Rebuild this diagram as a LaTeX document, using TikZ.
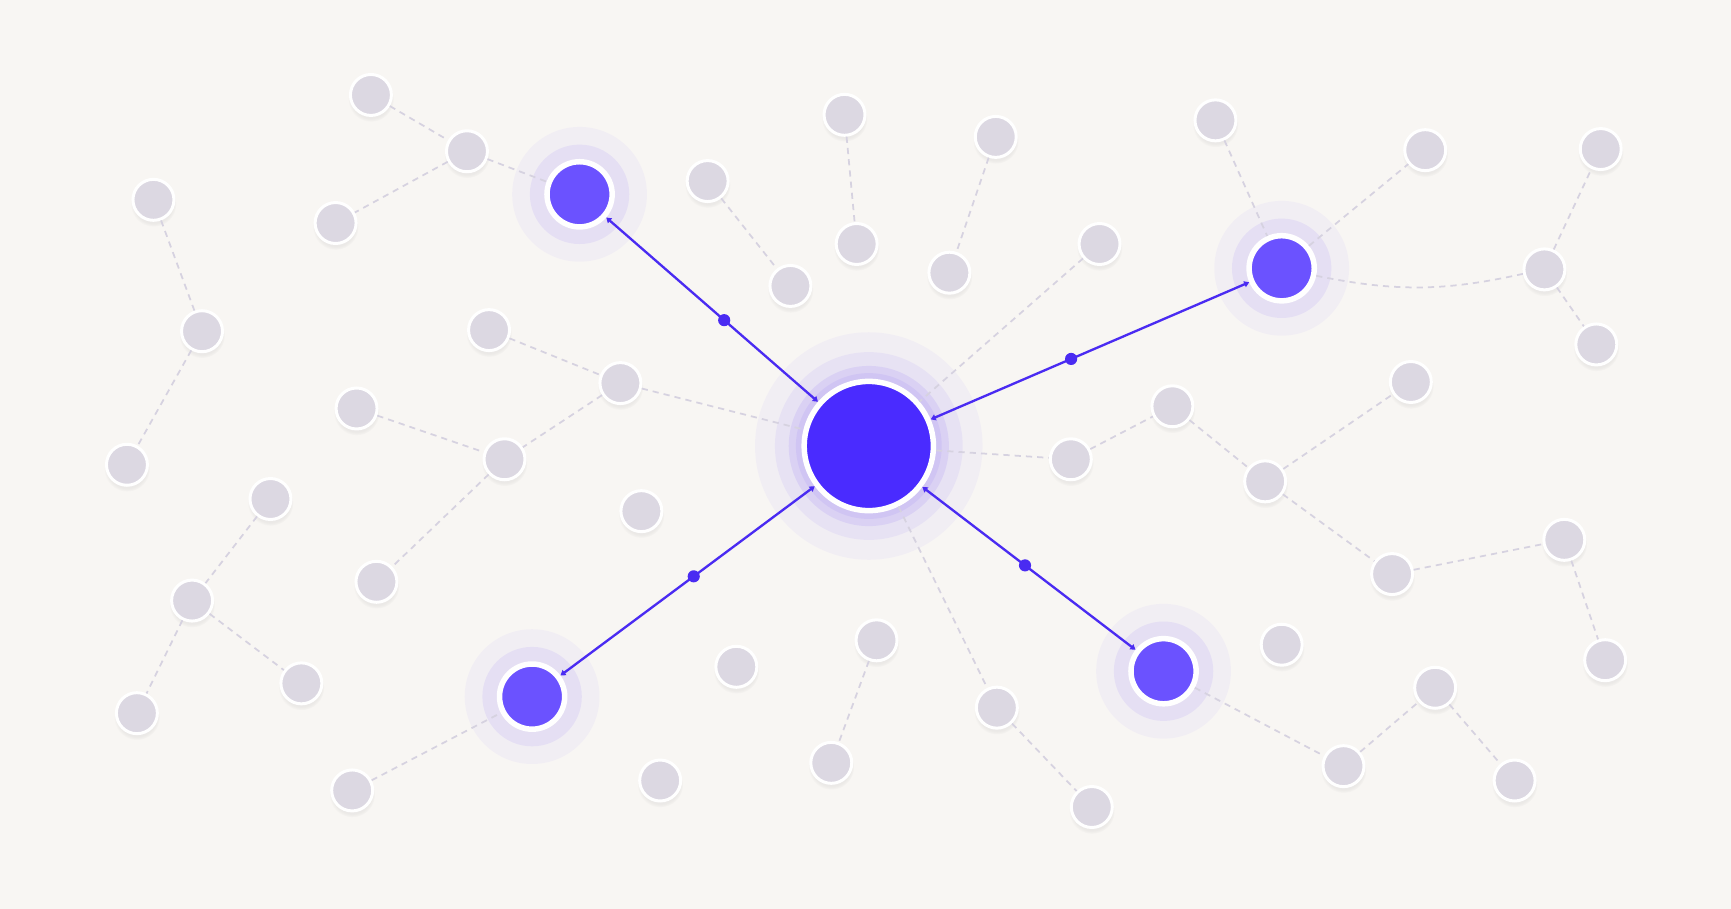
\documentclass[tikz,border=0pt]{standalone}
\usepackage{tikz}
\usetikzlibrary{arrows.meta,shadows,calc}

\definecolor{paper}{HTML}{F8F6F3}
\definecolor{nodegray}{HTML}{DCD8E2}
\definecolor{deep}{HTML}{4A2BFF}
\definecolor{violet}{HTML}{6B52FF}
\definecolor{wireblue}{HTML}{4A2BF2}
\definecolor{dashgray}{HTML}{D6D2E0}
\definecolor{glow}{HTML}{7E5EFA}

\tikzset{
  gnode/.style={circle,fill=nodegray,draw=white,line width=0.77pt,
    minimum size=0.371cm,inner sep=0pt,
    circular drop shadow={shadow xshift=0pt,shadow yshift=-0.9pt,shadow scale=1.12,opacity=0.10}},
  hub/.style={circle,fill=deep,draw=white,line width=1.42pt,minimum size=1.17cm,inner sep=0pt},
  sat/.style={circle,fill=violet,draw=white,line width=1.42pt,minimum size=0.59cm,inner sep=0pt},
  link/.style={draw=dashgray,line width=0.45pt,dash pattern=on 1.6pt off 1.3pt},
  wire/.style={draw=wireblue,line width=0.6pt,{Triangle[length=1.3pt,width=1.6pt]}-{Triangle[length=1.3pt,width=1.6pt]}},
  bead/.style={circle,fill=wireblue,inner sep=0pt,minimum size=0.11cm}
}

\begin{document}
\begin{tikzpicture}[x=0.01cm,y=-0.01cm]

    % Paper
    \useasboundingbox (0,0) rectangle (1568,823);
    \fill[paper] (0,0) rectangle (1568,823);

    % Hub positions
    \coordinate (c0) at (787,404);
    \coordinate (c1) at (525,176);
    \coordinate (c2) at (1161,243);
    \coordinate (c3) at (482,631);
    \coordinate (c4) at (1054,608);

    % Glow
    \fill[glow,opacity=0.05] (c0) circle (1.03cm);
    \fill[glow,opacity=0.08] (c0) circle (0.85cm);
    \fill[glow,opacity=0.12] (c0) circle (0.725cm);
    \fill[glow,opacity=0.10] (c0) circle (0.66cm);
    \foreach \c in {c1,c2,c3,c4}{
      \fill[glow,opacity=0.05] (\c) circle (0.61cm);
      \fill[glow,opacity=0.10] (\c) circle (0.45cm);
    }

    % Gray nodes
    \foreach \n/\x/\y in {1/336/86, 2/423/137, 3/304/202, 4/139/181, 5/183/300,
      6/115/421, 7/443/299, 8/562/347, 9/323/370, 10/457/416, 11/341/527,
      12/581/463, 13/245/452, 14/174/544, 15/273/619, 16/124/646, 17/319/716,
      18/598/707, 19/667/604, 20/794/580, 21/753/691, 22/903/641, 23/989/731,
      24/641/164, 25/716/259, 26/765/104, 27/776/221, 28/902/124, 29/860/247,
      30/996/221, 31/1101/109, 32/1291/136, 33/1450/135, 34/1399/244,
      35/1446/312, 36/970/416, 37/1062/368, 38/1146/436, 39/1278/346,
      40/1261/520, 41/1417/489, 42/1454/598, 43/1161/584, 44/1217/694,
      45/1300/623, 46/1372/707}
      \node[gnode] (g\n) at (\x,\y) {};

    % Hubs
    \node[hub] (hub) at (c0) {};
    \node[sat] (h1) at (c1) {};
    \node[sat] (h2) at (c2) {};
    \node[sat] (h3) at (c3) {};
    \node[sat] (h4) at (c4) {};

    % Dashed links
    \foreach \a/\b in {g1/g2, g2/h1, g2/g3, g4/g5, g5/g6, g7/g8, g8/hub, g8/g10,
      g9/g10, g10/g11, g13/g14, g14/g15, g14/g16, g17/h3, g20/g21, hub/g22,
      g22/g23, g24/g25, g26/g27, g28/g29, g30/hub, hub/g36, g36/g37, g37/g38,
      g38/g39, g38/g40, g40/g41, g41/g42, g31/h2, h2/g32, g34/g33, g34/g35,
      h4/g44, g44/g45, g45/g46}
      \draw[link] (\a) -- (\b);
    \draw[link] (h2) to[bend right=12] (g34);

    % Wires
    \foreach \i/\t in {1/0.5, 2/0.49, 3/0.52, 4/0.53}{
      \draw[wire] (hub) -- (h\i);
      \node[bead] (m\i) at ($(c0)!\t!(c\i)$) {};
    }

\end{tikzpicture}
\end{document}
